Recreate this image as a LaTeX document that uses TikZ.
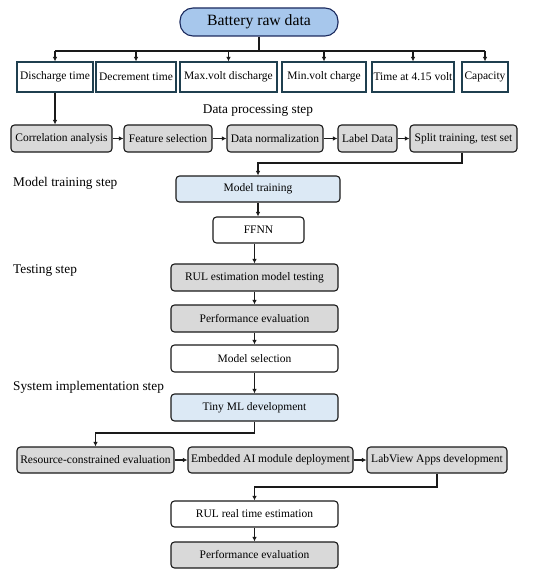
\documentclass[tikz,border=0pt]{standalone}
\usepackage{fontspec}
\setmainfont{Liberation Serif}
\usetikzlibrary{arrows.meta}
\definecolor{batfill}{HTML}{A7C7EC}
\definecolor{batline}{HTML}{1B2A5E}
\definecolor{featline}{HTML}{1F3F4F}
\definecolor{grayfill}{HTML}{D9D9D9}
\definecolor{bluefill}{HTML}{DCE9F5}
\definecolor{lineblk}{HTML}{1A1A1A}
\begin{document}
\begin{tikzpicture}[x=1pt,y=1pt,
  base/.style={draw=lineblk, line width=1.1pt, inner sep=0pt, align=center,
    font=\fontsize{11.5}{13}\selectfont, text=black},
  rbox/.style={base, rounded corners=3.5pt},
  graybox/.style={rbox, fill=grayfill},
  bluebox/.style={rbox, fill=bluefill},
  whitebox/.style={rbox, fill=white},
  featbox/.style={base, draw=featline, fill=white},
  steplabel/.style={inner sep=0pt, font=\fontsize{13.3}{15}\selectfont},
  arr/.style={-{Latex[length=4.5pt,width=4.5pt]}, line width=1.1pt, draw=lineblk},
  ln/.style={line width=1.1pt, draw=lineblk}
]
\useasboundingbox (0,0) rectangle (550,-575);

% top
\node[base, draw=batline, fill=batfill, rounded corners=13pt, minimum width=158pt, minimum height=28pt,
  font=\fontsize{15.7}{18}\selectfont] (bat) at (259,-22) {Battery raw data};

% features
\node[featbox, minimum width=76pt, minimum height=30pt] (d1) at (55,-77) {Discharge time};
\node[featbox, minimum width=80pt, minimum height=30pt] (d2) at (136,-77) {Decrement time};
\node[featbox, minimum width=97pt, minimum height=30pt] (d3) at (228.5,-77) {Max.volt discharge};
\node[featbox, minimum width=84pt, minimum height=30pt] (d4) at (324,-77) {Min.volt charge};
\node[featbox, minimum width=82pt, minimum height=30pt] (d5) at (413,-77) {Time at 4.15 volt};
\node[featbox, minimum width=46pt, minimum height=30pt] (d6) at (485,-77) {Capacity};

\coordinate (bus) at (259,-51);
\draw[ln] (bat.south) -- (bus);
\draw[ln] (d1.north |- bus) -- (d6.north |- bus);
\foreach \n in {d1,d2,d3,d4,d5,d6} {\draw[arr] (\n.north |- bus) -- (\n.north);}

% data processing
\node[steplabel] (lbl1) at (258,-111) {Data processing step};
\node[graybox, minimum width=101pt, minimum height=27pt] (p1) at (61.5,-138.5) {Correlation analysis};
\node[graybox, minimum width=88pt, minimum height=27pt] (p2) at (168,-138.5) {Feature selection};
\node[graybox, minimum width=96pt, minimum height=27pt] (p3) at (275,-138.5) {Data normalization};
\node[graybox, minimum width=59pt, minimum height=27pt] (p4) at (367.5,-138.5) {Label Data};
\node[graybox, minimum width=107pt, minimum height=27pt] (p5) at (463.5,-138.5) {Split training, test set};

\draw[arr] (d1.south) -- (d1.south |- p1.north);
\draw[arr] (p1) -- (p2);
\draw[arr] (p2) -- (p3);
\draw[arr] (p3) -- (p4);
\draw[arr] (p4) -- (p5);

% model training
\node[steplabel, anchor=west] (lbl2) at (13,-183) {Model training step};
\node[bluebox, minimum width=164pt, minimum height=26pt] (mt) at (258,-189) {Model training};
\node[whitebox, minimum width=91pt, minimum height=26pt] (ffnn) at (258.5,-230) {FFNN};
\coordinate (c1) at (462,-163);
\draw[arr] (p5.south -| c1) -- (c1) -- (c1 -| mt.north) -- (mt.north);
\draw[arr] (mt.south) -- (mt.south |- ffnn.north);

% testing
\node[steplabel, anchor=west] (lbl3) at (13,-271) {Testing step};
\node[graybox, minimum width=167pt, minimum height=27pt] (rul) at (254.5,-277.5) {RUL estimation model testing};
\node[graybox, minimum width=167pt, minimum height=27pt] (pe1) at (254.5,-318.5) {Performance evaluation};
\node[whitebox, minimum width=167pt, minimum height=27pt] (ms) at (254.5,-358.5) {Model selection};
\draw[arr] (ffnn.south -| rul.north) -- (rul.north);
\draw[arr] (rul) -- (pe1);
\draw[arr] (pe1) -- (ms);

% system implementation
\node[steplabel, anchor=west] (lbl4) at (13,-387) {System implementation step};
\node[bluebox, minimum width=167pt, minimum height=27pt] (tiny) at (254.5,-407.5) {Tiny ML development};
\draw[arr] (ms) -- (tiny);

\node[graybox, minimum width=157pt, minimum height=26pt] (r1) at (95.5,-460) {Resource-constrained evaluation};
\node[graybox, minimum width=165pt, minimum height=26pt] (r2) at (270.5,-460) {Embedded AI module deployment};
\node[graybox, minimum width=140pt, minimum height=26pt] (r3) at (437,-460) {LabView Apps development};
\coordinate (c2) at (254.5,-433);
\draw[arr] (tiny.south) -- (c2) -- (c2 -| r1.north) -- (r1.north);
\draw[arr] (r1) -- (r2);
\draw[arr] (r2) -- (r3);

\node[whitebox, minimum width=167pt, minimum height=26pt] (rt) at (254.5,-514) {RUL real time estimation};
\node[graybox, minimum width=167pt, minimum height=26pt] (pe2) at (254.5,-555) {Performance evaluation};
\coordinate (c3) at (437,-487);
\draw[arr] (r3.south) -- (c3) -- (c3 -| rt.north) -- (rt.north);
\draw[arr] (rt) -- (pe2);
\end{tikzpicture}
\end{document}
